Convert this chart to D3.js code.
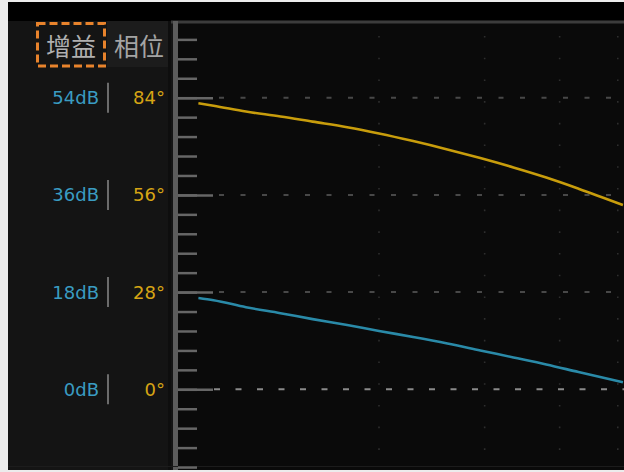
<!DOCTYPE html>
<html>
<head>
<meta charset="utf-8">
<script src="https://cdn.jsdelivr.net/npm/d3@7/dist/d3.min.js"></script>
<style>
  html, body { margin: 0; padding: 0; background: #ececec; }
  svg { display: block; }
</style>
</head>
<body>
<svg id="chart" width="624" height="472"></svg>
<script>
// Frequency sweep (relative units, log axis) with gain and phase response
const freq      = [1.0, 1.06, 1.2, 1.37, 1.55, 1.77, 2.0, 2.28, 2.6, 2.95, 3.35, 3.8, 4.3, 5.1];
const gainDb    = [16.9, 16.5, 15.2, 14.1, 13.0, 11.9, 10.8, 9.7, 8.5, 7.2, 5.9, 4.6, 3.2, 1.3];
const phaseDeg  = [82.4, 81.7, 80.0, 78.6, 77.1, 75.5, 73.7, 71.5, 69.1, 66.6, 63.9, 61.0, 57.8, 53.1];

// Labelled levels on the two vertical scales
const gainTicks  = [54, 36, 18, 0];
const phaseTicks = [84, 56, 28, 0];
const gainLabels  = ["54dB", "36dB", "18dB", "0dB"];
const phaseLabels = ["84°", "56°", "28°", "0°"];
// Vertical grid at these frequencies
const freqGrid = [2, 3, 4, 5];
// Tabs
const tabs = ["增益", "相位"];

const W = 624, H = 472;
const svg = d3.select("#chart");

const plot = { left: 178, top: 24, right: 624, bottom: 470 };

// Scales: 18 dB and 28° share the same major interval
const yGain  = d3.scaleLinear().domain([0, 54]).range([389.3, 97.7]);
const yPhase = d3.scaleLinear().domain([0, 84]).range([389.3, 97.7]);
const x = d3.scaleLog().domain([1, 10]).range([198.4, 798.4]);

// Frame
svg.append("rect").attr("x", 0).attr("y", 0).attr("width", W).attr("height", H).attr("fill", "#ececec");
svg.append("rect").attr("x", 8).attr("y", 2).attr("width", W - 8).attr("height", H - 4).attr("fill", "#000");
// left label panel
svg.append("rect").attr("x", 8).attr("y", 21).attr("width", 165).attr("height", H - 23).attr("fill", "#141414");
// inactive tab background
svg.append("rect").attr("x", 107).attr("y", 21).attr("width", 61).attr("height", 46).attr("fill", "#1c1c1c");
svg.append("rect").attr("x", 168).attr("y", 21).attr("width", 3).attr("height", H - 23).attr("fill", "#0e0e0e");
// plot background
svg.append("rect").attr("x", plot.left).attr("y", 21).attr("width", plot.right - plot.left).attr("height", plot.bottom - 21).attr("fill", "#0a0a0a");
svg.append("line").attr("x1", 171).attr("x2", W).attr("y1", 22).attr("y2", 22)
  .attr("stroke", "#3c3c3c").attr("stroke-width", 3);
// vertical axis bar
svg.append("rect").attr("x", 173).attr("y", 21).attr("width", 5).attr("height", plot.bottom - 21).attr("fill", "#5c5c5c");
svg.append("line").attr("x1", 8).attr("x2", W).attr("y1", 466.5).attr("y2", 466.5)
  .attr("stroke", "#1c1c1c").attr("stroke-width", 1);

svg.append("clipPath").attr("id", "plotclip")
  .append("rect").attr("x", plot.left).attr("y", plot.top)
  .attr("width", plot.right - plot.left).attr("height", plot.bottom - plot.top);

const g = svg.append("g").attr("clip-path", "url(#plotclip)");

// dotted frequency grid
g.selectAll("line.vgrid").data(freqGrid).join("line")
  .attr("class", "vgrid")
  .attr("x1", d => x(d)).attr("x2", d => x(d))
  .attr("y1", 36).attr("y2", plot.bottom)
  .attr("stroke", "#2e2e2e").attr("stroke-width", 1.6)
  .attr("stroke-dasharray", "1.6,20.1");

// dashed level grid
g.selectAll("line.hgrid").data(gainTicks).join("line")
  .attr("class", "hgrid")
  .attr("x1", 213).attr("x2", plot.right)
  .attr("y1", d => yGain(d)).attr("y2", d => yGain(d))
  .attr("stroke", d => d === 0 ? "#8a8a8a" : "#484848")
  .attr("stroke-width", 2)
  .attr("stroke-dasharray", d => d === 0 ? "6,15.5" : "5,16.5")
  .attr("stroke-dashoffset", d => d === 0 ? -1 : -6);

// tick marks on the vertical axis (minor every 3.6 dB, major every 18 dB)
const minorVals = d3.range(-14.4, 66, 3.6).map(v => +v.toFixed(1));
const minorAxis = d3.axisRight(yGain).tickValues(minorVals).tickSize(19).tickFormat("");
const majorAxis = d3.axisRight(yGain).tickValues(gainTicks).tickSize(35).tickFormat("");

[minorAxis, majorAxis].forEach(ax => {
  const a = svg.append("g").attr("transform", `translate(${plot.left},0)`).call(ax);
  a.select(".domain").remove();
  a.selectAll(".tick line").attr("stroke", "#666").attr("stroke-width", 2.5);
});

// curves
const linePhase = d3.line().x((d, i) => x(freq[i])).y(d => yPhase(d)).curve(d3.curveMonotoneX);
const lineGain  = d3.line().x((d, i) => x(freq[i])).y(d => yGain(d)).curve(d3.curveMonotoneX);

g.append("path").datum(phaseDeg).attr("d", linePhase)
  .attr("fill", "none").attr("stroke", "#c89d0c").attr("stroke-width", 2.6);
g.append("path").datum(gainDb).attr("d", lineGain)
  .attr("fill", "none").attr("stroke", "#2a8aa8").attr("stroke-width", 2.6);

// level labels
const font = "'DejaVu Sans', Verdana, sans-serif";
svg.selectAll("text.glab").data(gainTicks).join("text")
  .attr("class", "glab")
  .attr("x", 99).attr("y", d => yGain(d))
  .attr("text-anchor", "end").attr("dominant-baseline", "central")
  .attr("font-family", font).attr("font-size", 18)
  .attr("fill", "#3a9cc2")
  .text((d, i) => gainLabels[i]);

svg.selectAll("line.sep").data(gainTicks).join("line")
  .attr("class", "sep")
  .attr("x1", 108).attr("x2", 108)
  .attr("y1", d => yGain(d) - 15).attr("y2", d => yGain(d) + 15)
  .attr("stroke", "#6c6c6c").attr("stroke-width", 2);

svg.selectAll("text.plab").data(phaseTicks).join("text")
  .attr("class", "plab")
  .attr("x", 165).attr("y", d => yPhase(d))
  .attr("text-anchor", "end").attr("dominant-baseline", "central")
  .attr("font-family", font).attr("font-size", 18)
  .attr("fill", "#d7a514")
  .text((d, i) => phaseLabels[i]);

// tabs
const cjk = "'Noto Sans CJK SC', 'Noto Sans', sans-serif";
svg.append("text").attr("x", 71).attr("y", 45).attr("text-anchor", "middle")
  .attr("dominant-baseline", "central").attr("font-family", cjk).attr("font-size", 25)
  .attr("fill", "#b0b0b0").text(tabs[0]);
svg.append("text").attr("x", 139).attr("y", 45).attr("text-anchor", "middle")
  .attr("dominant-baseline", "central").attr("font-family", cjk).attr("font-size", 25)
  .attr("fill", "#a4a4a4").text(tabs[1]);
// active tab highlight
svg.append("rect").attr("x", 37.5).attr("y", 23.5).attr("width", 67).attr("height", 42.5)
  .attr("fill", "none").attr("stroke", "#e8832c").attr("stroke-width", 3)
  .attr("stroke-dasharray", "8,4");
</script>
</body>
</html>
